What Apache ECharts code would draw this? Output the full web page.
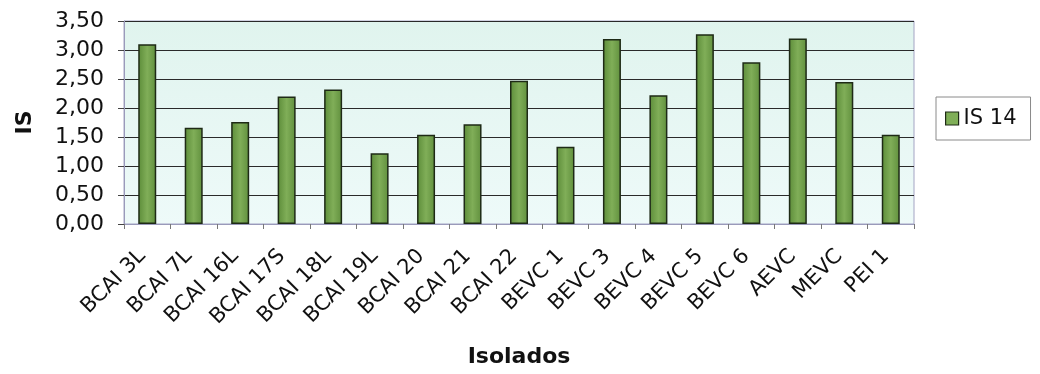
<!DOCTYPE html>
<html>
<head>
<meta charset="utf-8">
<script src="https://cdn.jsdelivr.net/npm/echarts@6/dist/echarts.min.js"></script>
<style>
  html, body { margin: 0; padding: 0; background: #ffffff; }
  #chart { width: 1040px; height: 374px; }
</style>
</head>
<body>
<div id="chart"></div>
<script>
// Isolates on the x axis
const categories = [
  'BCAI 3L', 'BCAI 7L', 'BCAI 16L', 'BCAI 17S', 'BCAI 18L', 'BCAI 19L',
  'BCAI 20', 'BCAI 21', 'BCAI 22', 'BEVC 1', 'BEVC 3', 'BEVC 4',
  'BEVC 5', 'BEVC 6', 'AEVC', 'MEVC', 'PEI 1'
];
// IS 14 values per isolate
const is14 = [
  3.10, 1.66, 1.76, 2.20, 2.32, 1.22,
  1.54, 1.72, 2.47, 1.33, 3.19, 2.22,
  3.27, 2.79, 3.20, 2.45, 1.54
];
const seriesName = 'IS 14';
const yAxisTitle = 'IS';
const xAxisTitle = 'Isolados';

const FONT = '"DejaVu Sans", "Liberation Sans", sans-serif';

const chart = echarts.init(document.getElementById('chart'), null, { renderer: 'canvas' });

const barFill = new echarts.graphic.LinearGradient(0, 0, 1, 0, [
  { offset: 0, color: '#5c8c39' },
  { offset: 0.5, color: '#80ae58' },
  { offset: 1, color: '#608f3d' }
]);

chart.setOption({
  animation: false,
  backgroundColor: '#ffffff',
  textStyle: { fontFamily: FONT },
  grid: {
    left: 124, right: 126, top: 21, bottom: 150,
    show: true,
    borderColor: '#a4a4c4',
    borderWidth: 1,
    backgroundColor: new echarts.graphic.LinearGradient(0, 0, 0, 1, [
      { offset: 0, color: '#e0f4ee' },
      { offset: 1, color: '#eefaf9' }
    ])
  },
  legend: {
    show: true,
    left: 936, top: 97,
    orient: 'vertical',
    padding: [11, 14, 11, 9],
    borderColor: '#8a8a8a',
    borderWidth: 1,
    backgroundColor: '#ffffff',
    itemWidth: 13, itemHeight: 13, itemGap: 8,
    icon: 'rect',
    textStyle: { fontFamily: FONT, fontSize: 21, color: '#111' },
    data: [{ name: seriesName, itemStyle: { color: '#7fae57', borderColor: '#1e2a16', borderWidth: 1.2 } }]
  },
  xAxis: {
    type: 'category',
    data: categories,
    boundaryGap: true,
    name: xAxisTitle,
    nameLocation: 'middle',
    nameGap: 122,
    nameTextStyle: { fontFamily: FONT, fontSize: 22, fontWeight: 'bold', color: '#111' },
    axisLine: { lineStyle: { color: '#9a9aba', width: 1 } },
    axisTick: { show: true, alignWithLabel: false, length: 5, lineStyle: { color: '#777' } },
    axisLabel: {
      interval: 0, rotate: 45, margin: 24,
      padding: [0, 7, 0, 0],
      fontFamily: FONT, fontSize: 21, color: '#111'
    },
    splitLine: { show: false }
  },
  yAxis: {
    type: 'value',
    min: 0, max: 3.5, interval: 0.5,
    name: yAxisTitle,
    nameLocation: 'middle',
    nameGap: 88,
    nameRotate: 90,
    nameTextStyle: { fontFamily: FONT, fontSize: 22, fontWeight: 'bold', color: '#111' },
    axisLine: { show: true, lineStyle: { color: '#9a9aba', width: 1 } },
    axisTick: { show: true, length: 6, lineStyle: { color: '#444' } },
    axisLabel: {
      margin: 20,
      fontFamily: FONT, fontSize: 22, color: '#111',
      formatter: v => v.toFixed(2).replace('.', ',')
    },
    splitLine: { show: true, lineStyle: { color: '#2a2a2a', width: 1 } }
  },
  series: [{
    name: seriesName,
    type: 'bar',
    data: is14,
    barWidth: 18,
    itemStyle: { color: barFill, borderColor: '#1e2a16', borderWidth: 1.5 }
  }]
});
</script>
</body>
</html>
